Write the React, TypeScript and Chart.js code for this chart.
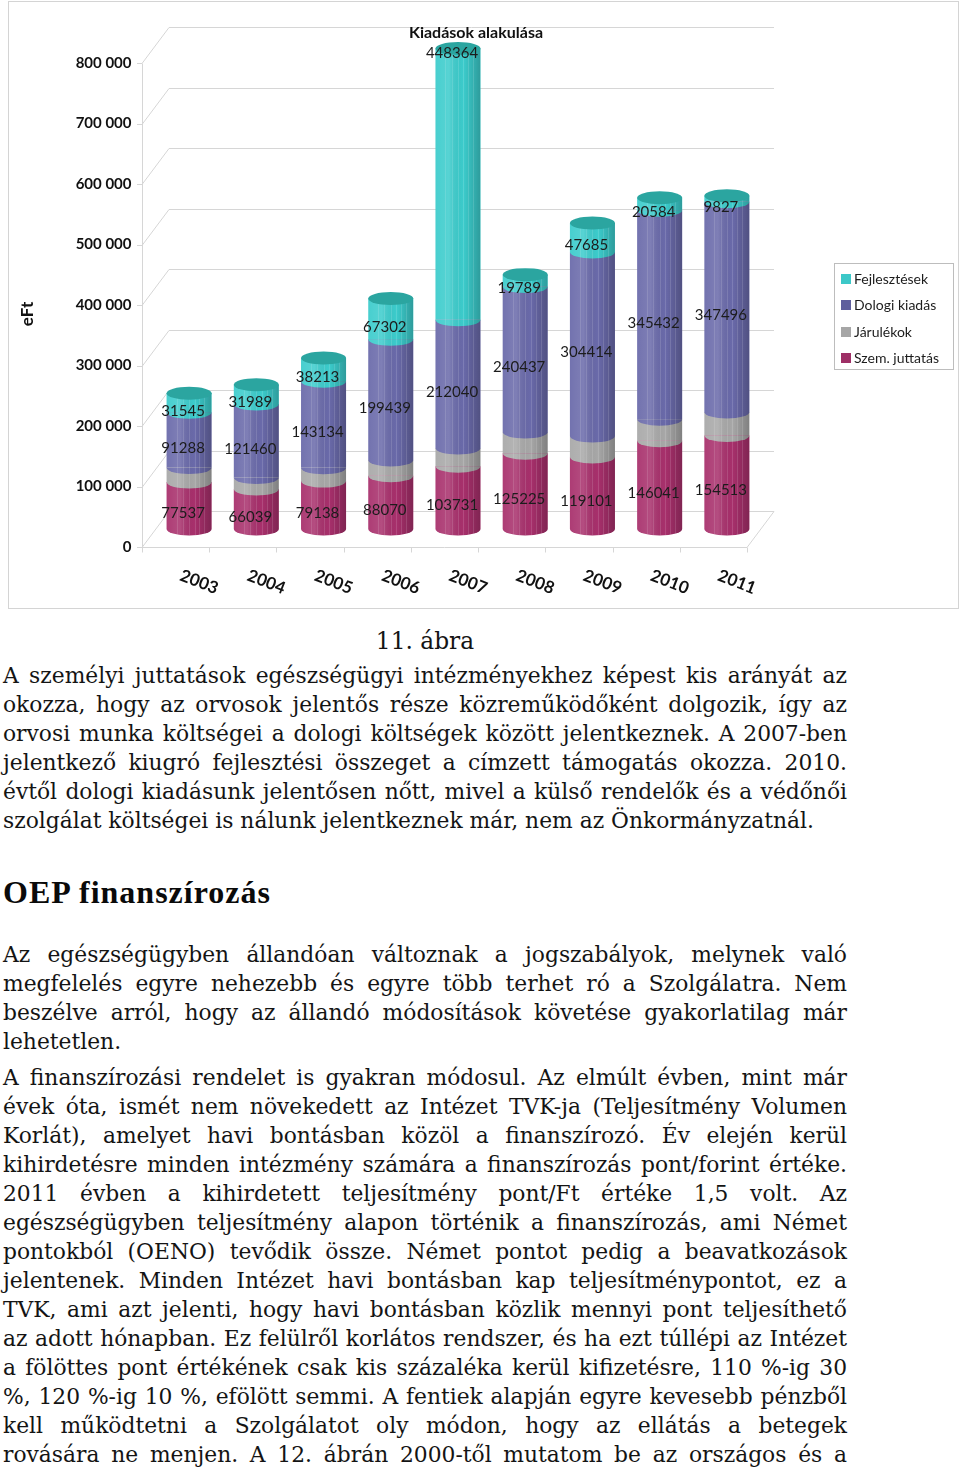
import React, { useEffect, useMemo, useRef } from 'react';
import { Chart, registerables } from 'chart.js';

Chart.register(...registerables);

// ---------- DATA ----------
const years = ['2003', '2004', '2005', '2006', '2007', '2008', '2009', '2010', '2011'];
const szemJuttatas = [77537, 66039, 79138, 88070, 103731, 125225, 119101, 146041, 154513];
const jarulekok = [24000, 19000, 22000, 26000, 30000, 35000, 34500, 35500, 39000];
const dologiKiadas = [91288, 121460, 143134, 199439, 212040, 240437, 304414, 345432, 347496];
const fejlesztesek = [31545, 31989, 38213, 67302, 448364, 19789, 47685, 20584, 9827];
const seriesNames = ['Szem. juttatás', 'Járulékok', 'Dologi kiadás', 'Fejlesztések'];
const seriesValues = [szemJuttatas, jarulekok, dologiKiadas, fejlesztesek];
const showValueLabels = [true, false, true, true];
const fejlesztesekLabelAnchor = ['center', 'center', 'center', 'center', 'top', 'center', 'center', 'center', 'center'];
const valueLabelAnchors = [null, null, null, fejlesztesekLabelAnchor];
const yMax = 800000;
const yStep = 100000;
const chartTitle = 'Kiadások alakulása';
const yAxisTitle = 'eFt';

// ---------- STYLE ----------
const seriesColors = ['#a8306c', '#a8a8a8', '#6a6aaa', '#3ccccc'];
const legendColors = ['#9e2f66', '#a6a6a6', '#5f5f9d', '#3cc8c8'];
const topFaceColor = '#2ba5a0';
const CHART_FONT = 'Lato, "Open Sans", sans-serif';
const DEPTH_X = 13.5;
const DEPTH_Y = 18;
const RY = 6.5;

const para1 = [
  'A személyi juttatások egészségügyi intézményekhez képest kis arányát az',
  'okozza, hogy az orvosok jelentős része közreműködőként dolgozik, így az',
  'orvosi munka költségei a dologi költségek között jelentkeznek. A 2007-ben',
  'jelentkező kiugró fejlesztési összeget a címzett támogatás okozza. 2010.',
  'évtől dologi kiadásunk jelentősen nőtt, mivel a külső rendelők és a védőnői',
  'szolgálat költségei is nálunk jelentkeznek már, nem az Önkormányzatnál.',
];
const para2 = [
  'Az egészségügyben állandóan változnak a jogszabályok, melynek való',
  'megfelelés egyre nehezebb és egyre több terhet ró a Szolgálatra. Nem',
  'beszélve arról, hogy az állandó módosítások követése gyakorlatilag már',
  'lehetetlen.',
];
const para3 = [
  'A finanszírozási rendelet is gyakran módosul. Az elmúlt évben, mint már',
  'évek óta, ismét nem növekedett az Intézet TVK-ja (Teljesítmény Volumen',
  'Korlát), amelyet havi bontásban közöl a finanszírozó. Év elején kerül',
  'kihirdetésre minden intézmény számára a finanszírozás pont/forint értéke.',
  '2011 évben a kihirdetett teljesítmény pont/Ft értéke 1,5 volt. Az',
  'egészségügyben teljesítmény alapon történik a finanszírozás, ami Német',
  'pontokból (OENO) tevődik össze. Német pontot pedig a beavatkozások',
  'jelentenek. Minden Intézet havi bontásban kap teljesítménypontot, ez a',
  'TVK, ami azt jelenti, hogy havi bontásban közlik mennyi pont teljesíthető',
  'az adott hónapban. Ez felülről korlátos rendszer, és ha ezt túllépi az Intézet',
  'a fölöttes pont értékének csak kis százaléka kerül kifizetésre, 110 %-ig 30',
  '%, 120 %-ig 10 %, efölött semmi. A fentiek alapján egyre kevesebb pénzből',
  'kell működtetni a Szolgálatot oly módon, hogy az ellátás a betegek',
  'rovására ne menjen. A 12. ábrán 2000-től mutatom be az országos és a',
];
const caption = '11. ábra';
const heading = 'OEP finanszírozás';

const BODY_FONT = '"DejaVu Serif", Georgia, serif';
const BODY_ASC = 0.928;
const BODY_DESC = 0.236;
const HEAD_FONT = '"Liberation Serif", "Times New Roman", serif';
const TEXT_LEFT = 3;
const TEXT_WIDTH = 844;
const LAST_LINE_WIDTH = 823;
const LINE_H = 29;

function fmt(v: number) {
  return String(v).replace(/\B(?=(\d{3})+(?!\d))/g, ' ');
}

function line(ctx: CanvasRenderingContext2D, x1: number, y1: number, x2: number, y2: number) {
  ctx.beginPath();
  ctx.moveTo(x1, y1);
  ctx.lineTo(x2, y2);
  ctx.stroke();
}

const framePlugin = {
  id: 'frame3d',
  beforeDatasetsDraw(chart: any) {
    const { ctx, chartArea, scales } = chart;
    const y = scales.y;
    const x = scales.x;
    const fl = chartArea.left - DEPTH_X;
    const fr = chartArea.right - DEPTH_X;
    const bl = chartArea.left + DEPTH_X;
    const br = chartArea.right + DEPTH_X;
    const y0 = y.getPixelForValue(0);
    ctx.save();
    ctx.strokeStyle = '#d6d6d6';
    ctx.lineWidth = 1;
    y.ticks.forEach((t: any) => {
      const yy = y.getPixelForValue(t.value);
      const yb = Math.round(yy - DEPTH_Y) + 0.5;
      const yf = Math.round(yy + DEPTH_Y) + 0.5;
      line(ctx, bl, yb, br, yb);
      line(ctx, fl, yf, bl, yb);
      line(ctx, fl - 5, yf, fl, yf);
    });
    const yf0 = Math.round(y0 + DEPTH_Y) + 0.5;
    const flr = Math.round(fl) + 0.5;
    line(ctx, flr, yf0, flr, Math.round(y.getPixelForValue(yMax) + DEPTH_Y) + 0.5);
    line(ctx, fl, yf0, fr, yf0);
    line(ctx, fr, yf0, br, Math.round(y0 - DEPTH_Y) + 0.5);
    const n = chart.data.labels.length;
    for (let i = 0; i <= n; i++) {
      const xx = Math.round(x.getPixelForValue(i - 0.5) - DEPTH_X) + 0.5;
      line(ctx, xx, yf0, xx, yf0 + 5);
    }
    ctx.restore();
  },
};

const cylinderPlugin = {
  id: 'cylinder',
  afterDatasetsDraw(chart: any) {
    const ctx: CanvasRenderingContext2D = chart.ctx;
    const nd = chart.data.datasets.length;
    const n = chart.data.labels.length;
    for (let i = 0; i < n; i++) {
      let top = Infinity;
      let base = -Infinity;
      let cx = 0;
      let w = 0;
      for (let d = 0; d < nd; d++) {
        const el = chart.getDatasetMeta(d).data[i];
        const p = el.getProps(['x', 'y', 'base', 'width'], true);
        ctx.fillStyle = seriesColors[d];
        ctx.beginPath();
        ctx.ellipse(p.x, p.base, p.width / 2, RY, 0, 0, Math.PI);
        ctx.closePath();
        ctx.fill();
        top = Math.min(top, p.y);
        base = Math.max(base, p.base);
        cx = p.x;
        w = p.width;
      }
      ctx.save();
      ctx.beginPath();
      ctx.moveTo(cx - w / 2, top);
      ctx.lineTo(cx + w / 2, top);
      ctx.lineTo(cx + w / 2, base);
      ctx.ellipse(cx, base, w / 2, RY, 0, 0, Math.PI);
      ctx.closePath();
      ctx.clip();
      const g = ctx.createLinearGradient(cx - w / 2, 0, cx + w / 2, 0);
      g.addColorStop(0, 'rgba(255,255,255,0.06)');
      g.addColorStop(0.3, 'rgba(255,255,255,0.14)');
      g.addColorStop(0.62, 'rgba(0,0,0,0)');
      g.addColorStop(1, 'rgba(0,0,0,0.24)');
      ctx.fillStyle = g;
      ctx.fillRect(cx - w / 2, top - 1, w, base - top + RY + 2);
      ctx.strokeStyle = 'rgba(255,255,255,0.13)';
      ctx.lineWidth = 1;
      [0.22, 0.36, 0.5, 0.62, 0.73, 0.84].forEach((f) => {
        const xx = Math.round(cx - w / 2 + w * f) + 0.5;
        line(ctx, xx, top, xx, base + RY);
      });
      ctx.restore();
      ctx.fillStyle = topFaceColor;
      ctx.beginPath();
      ctx.ellipse(cx, top, w / 2, RY, 0, 0, Math.PI * 2);
      ctx.fill();
    }
  },
};

const valueLabelPlugin = {
  id: 'valueLabels',
  afterDatasetsDraw(chart: any) {
    const ctx: CanvasRenderingContext2D = chart.ctx;
    ctx.save();
    ctx.font = `15px ${CHART_FONT}`;
    ctx.fillStyle = '#1c1c1c';
    ctx.textAlign = 'center';
    ctx.textBaseline = 'middle';
    chart.data.datasets.forEach((ds: any, d: number) => {
      if (!showValueLabels[d]) return;
      chart.getDatasetMeta(d).data.forEach((el: any, i: number) => {
        const p = el.getProps(['x', 'y', 'base'], true);
        const anchors = valueLabelAnchors[d];
        const anchor = anchors ? anchors[i] : 'center';
        const yy = anchor === 'top' ? p.y + 5 : (p.y + p.base) / 2 + 8;
        ctx.fillText(String(ds.data[i]), p.x - 6, yy);
      });
    });
    ctx.restore();
  },
};

const decorPlugin = {
  id: 'decor',
  afterDraw(chart: any) {
    const ctx: CanvasRenderingContext2D = chart.ctx;
    const { x, y } = chart.scales;
    ctx.save();
    ctx.fillStyle = '#111';
    ctx.font = `bold 16px ${CHART_FONT}`;
    ctx.textAlign = 'center';
    ctx.textBaseline = 'middle';
    ctx.fillText(chartTitle, 476, 33);
    ctx.save();
    ctx.translate(28, 314);
    ctx.rotate(-Math.PI / 2);
    ctx.font = `bold 17px ${CHART_FONT}`;
    ctx.fillText(yAxisTitle, 0, 0);
    ctx.restore();
    ctx.font = `bold 17px ${CHART_FONT}`;
    const y0 = y.getPixelForValue(0);
    chart.data.labels.forEach((lab: string, i: number) => {
      ctx.save();
      ctx.translate(x.getPixelForValue(i) + 10, y0 + 53);
      ctx.rotate(0.37);
      ctx.fillText(lab, 0, 0);
      ctx.restore();
    });
    const lx = 834, ly = 263, lw = 119, lh = 106;
    ctx.fillStyle = '#fff';
    ctx.fillRect(lx, ly, lw, lh);
    ctx.strokeStyle = '#bdbdbd';
    ctx.lineWidth = 1;
    ctx.strokeRect(lx + 0.5, ly + 0.5, lw, lh);
    ctx.font = `14px ${CHART_FONT}`;
    ctx.textAlign = 'left';
    const items = chart.data.datasets
      .map((ds: any, d: number) => ({ label: ds.label, color: legendColors[d] }))
      .reverse();
    items.forEach((it: any, k: number) => {
      const cy = 279 + k * 26.3;
      ctx.fillStyle = it.color;
      ctx.fillRect(841, Math.round(cy - 5), 10, 10);
      ctx.fillStyle = '#1c1c1c';
      ctx.fillText(it.label, 854, cy + 0.5);
    });
    ctx.restore();
  },
};

function lineTop(baseline: number, fs: number) {
  return baseline - ((LINE_H - (BODY_ASC + BODY_DESC) * fs) / 2 + BODY_ASC * fs);
}

export default function App() {
  const ref = useRef<HTMLCanvasElement>(null);

  const bodyFs = useMemo(() => {
    const c = document.createElement('canvas').getContext('2d');
    if (!c) return 21;
    c.font = `100px ${BODY_FONT}`;
    let mx = 0;
    [...para1, ...para2, ...para3].forEach((s) => {
      mx = Math.max(mx, c.measureText(s).width);
    });
    const wLast = c.measureText(para1[para1.length - 1]).width;
    const byLast = (LAST_LINE_WIDTH / wLast) * 100;
    const byMax = ((TEXT_WIDTH - 4) / mx) * 100;
    return Math.floor(Math.min(byLast, byMax) * 10) / 10;
  }, []);

  useEffect(() => {
    if (!ref.current) return;
    const chart = new Chart(ref.current, {
      type: 'bar',
      data: {
        labels: years,
        datasets: seriesValues.map((data, d) => ({
          label: seriesNames[d],
          data,
          backgroundColor: seriesColors[d],
          borderWidth: 0,
          barPercentage: 0.67,
          categoryPercentage: 1,
        })),
      },
      options: {
        animation: false,
        responsive: false,
        maintainAspectRatio: false,
        devicePixelRatio: 1,
        layout: { padding: { left: 0, top: 45, right: 199.5, bottom: 81 } },
        plugins: {
          legend: { display: false },
          title: { display: false },
          tooltip: { enabled: false },
        },
        scales: {
          x: { stacked: true, display: false },
          y: {
            stacked: true,
            min: 0,
            max: yMax,
            afterFit: (s: any) => {
              s.width = 155.5;
            },
            grid: { display: false, drawTicks: false },
            border: { display: false },
            ticks: {
              stepSize: yStep,
              padding: 24,
              labelOffset: 18,
              color: '#111',
              font: { family: CHART_FONT, weight: 'bold', size: 15 },
              callback: (v: any) => fmt(Number(v)),
            },
          },
        },
      } as any,
      plugins: [framePlugin, cylinderPlugin, valueLabelPlugin, decorPlugin],
    });
    return () => chart.destroy();
  }, []);

  const lineStyle = (baseline: number, justify: boolean): React.CSSProperties => ({
    position: 'absolute',
    left: TEXT_LEFT,
    top: lineTop(baseline, bodyFs),
    width: TEXT_WIDTH,
    height: LINE_H,
    lineHeight: `${LINE_H}px`,
    fontSize: bodyFs,
    fontFamily: BODY_FONT,
    color: '#141414',
    textAlign: 'justify',
    textAlignLast: justify ? 'justify' : 'left',
    whiteSpace: 'normal',
  });

  const renderPara = (lines: string[], firstBaseline: number, lastJustified = false) =>
    lines.map((s, k) => {
      const isLast = k === lines.length - 1;
      return (
        <div key={k} style={lineStyle(firstBaseline + k * LINE_H, !isLast || lastJustified)}>
          {s}
        </div>
      );
    });

  return (
    <div
      style={{
        position: 'absolute',
        left: 0,
        top: 0,
        width: 960,
        height: 1471,
        overflow: 'hidden',
        background: '#fff',
      }}
    >
      <div
        style={{
          position: 'absolute',
          left: 8,
          top: 1,
          width: 951,
          height: 608,
          border: '1px solid #d4d4d4',
          boxSizing: 'border-box',
        }}
      />
      <canvas
        ref={ref}
        width={960}
        height={610}
        style={{ position: 'absolute', left: 0, top: 0, width: 960, height: 610 }}
      />
      <div
        style={{
          position: 'absolute',
          left: TEXT_LEFT,
          top: lineTop(649, bodyFs + 1.5),
          width: TEXT_WIDTH,
          height: LINE_H,
          lineHeight: `${LINE_H}px`,
          fontSize: bodyFs + 1.5,
          fontFamily: BODY_FONT,
          color: '#141414',
          textAlign: 'center',
        }}
      >
        {caption}
      </div>
      {renderPara(para1, 683)}
      <div
        style={{
          position: 'absolute',
          left: TEXT_LEFT,
          top: 906 - 36,
          height: 44,
          lineHeight: '44px',
          fontSize: 32,
          letterSpacing: 1,
          fontWeight: 'bold',
          fontFamily: HEAD_FONT,
          color: '#0a0a0a',
          whiteSpace: 'nowrap',
        }}
      >
        {heading}
      </div>
      {renderPara(para2, 962)}
      {renderPara(para3, 1085, true)}
    </div>
  );
}
